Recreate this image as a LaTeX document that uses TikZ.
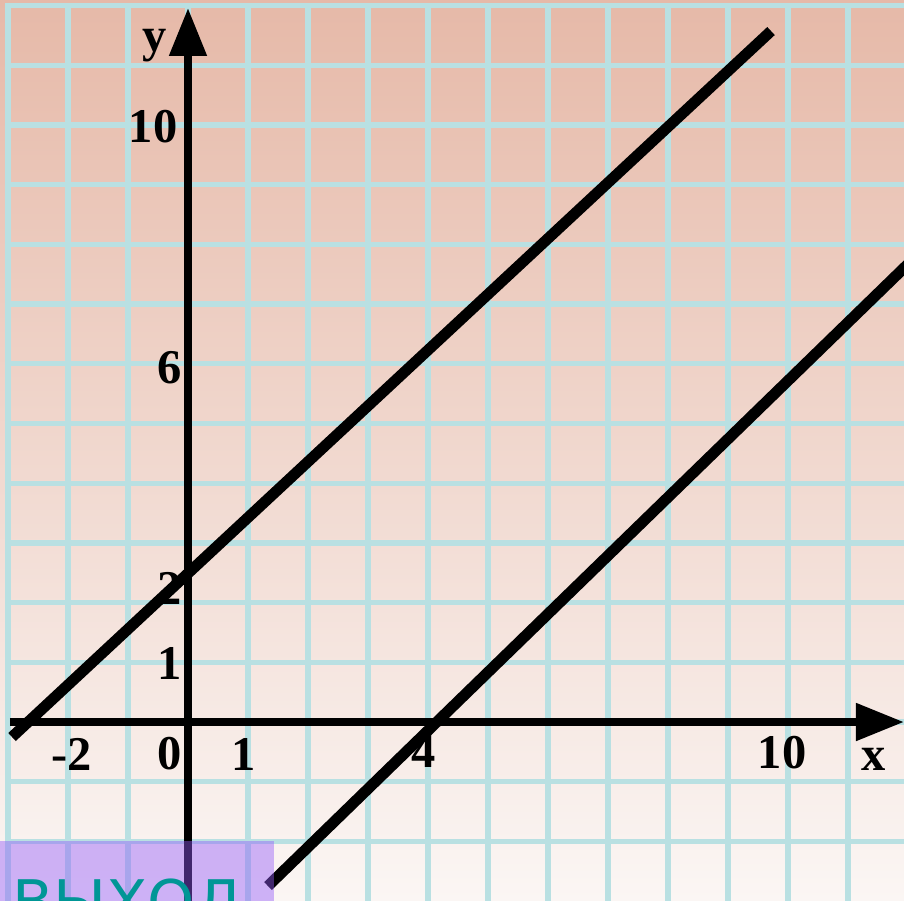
\documentclass[tikz,border=0pt]{standalone}
\usepackage{fontspec}
\setmainfont{Liberation Serif}
\newfontfamily\btnfont{DejaVu Sans}
\usetikzlibrary{arrows.meta, positioning, calc}
\definecolor{bgtop}{RGB}{230,185,168}
\definecolor{bgbot}{RGB}{251,246,244}
\definecolor{gridcyan}{RGB}{185,224,226}
\definecolor{btnpurple}{RGB}{148,91,250}
\definecolor{btnteal}{RGB}{0,150,150}
\tikzset{
    gridline/.style={line width=2.5pt, draw=gridcyan, line cap=rect},
    axisline/.style={line width=3.8pt, draw=black,
                     -{Triangle[length=0.8cm, width=0.6cm]}},
    graphline/.style={line width=5.2pt, draw=black},
    ticklbl/.style={font=\fontsize{23}{26}\selectfont\bfseries, inner sep=0pt},
    exitbtn/.style={fill=btnpurple, fill opacity=0.44},
    exittxt/.style={font=\btnfont\fontsize{28.5}{30}\selectfont, text=btnteal,
                    inner sep=0pt, anchor=base west},
}

\begin{document}
\begin{tikzpicture}[x=1cm, y=0.995cm]
    % page and background
    \shade[top color=bgtop, bottom color=bgbot] (-3.1333,-2.9816) rectangle (11.9333,12.0938);
    \useasboundingbox (-3.1333,-2.9816) rectangle (11.9333,12.0938);
    % grid
    \foreach \gx in {-3,...,11}
        \draw[gridline] (\gx,12) -- (\gx,-3.2);
    \foreach \gy in {-2,...,12}
        \draw[gridline] (-3,\gy) -- (12.2,\gy);
    % end points
    \coordinate (xfrom) at (-2.967,0);
    \coordinate (xto) at (11.933,0);
    \coordinate (yfrom) at (0,-3.2);
    \coordinate (yto) at (0,11.96);
    \coordinate (upfrom) at (-2.933,-0.251);
    \coordinate (upto) at (9.717,11.574);
    \coordinate (lowfrom) at (1.333,-2.747);
    \coordinate (lowto) at (12.2,7.866);
    % graphs
    \draw[graphline] (upfrom) -- (upto);
    \draw[graphline] (lowfrom) -- (lowto);
    % axes
    \draw[axisline] (xfrom) -- (xto);
    \draw[axisline] (yfrom) -- (yto);
    % labels
    \node[ticklbl, anchor=base] (ylbl) at (-0.55,11.223) {y};
    \node[ticklbl] (yten) at (-0.583,9.966) {10};
    \node[ticklbl] (ysix) at (-0.3,5.93) {6};
    \node[ticklbl] (ytwo) at (-0.3,2.245) {2};
    \node[ticklbl] (yone) at (-0.3,0.972) {1};
    \node[ticklbl] (xmtwo) at (-1.933,-0.536) {-2};
    \node[ticklbl] (xzero) at (-0.3,-0.536) {0};
    \node[ticklbl] (xone) at (0.933,-0.536) {1};
    \node[ticklbl] (xfour) at (3.933,-0.5) {4};
    \node[ticklbl] (xten) at (9.9,-0.52) {10};
    \node[ticklbl, anchor=base] (xlbl) at (11.433,-0.804) {x};
    % exit button
    \fill[exitbtn] (-3.2,-1.993) rectangle (1.433,-3.2);
    \node[exittxt] (exit) at (-2.933,-3.367) {ВЫХОД};
\end{tikzpicture}
\end{document}
